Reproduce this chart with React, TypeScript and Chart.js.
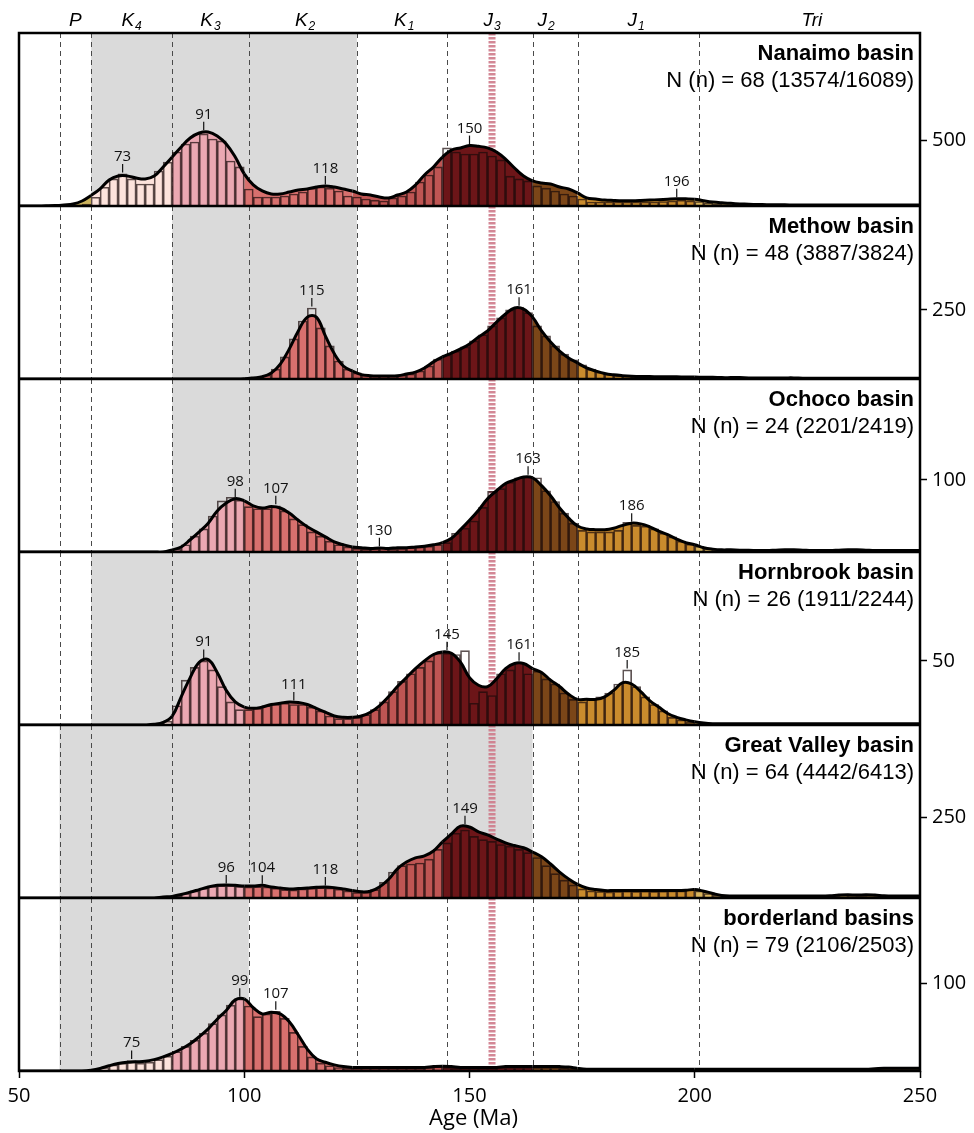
import React, { useEffect, useRef } from 'react';
import { Chart, registerables } from 'chart.js';

Chart.register(...registerables);

// ---------- data ----------
const X_MIN = 50;
const X_MAX = 250;
const BIN_WIDTH = 2;

const PANEL_NAMES = ['Nanaimo basin', 'Methow basin', 'Ochoco basin', 'Hornbrook basin', 'Great Valley basin', 'borderland basins'];
const PANEL_COUNTS = [
  'N (n) = 68 (13574/16089)',
  'N (n) = 48 (3887/3824)',
  'N (n) = 24 (2201/2419)',
  'N (n) = 26 (1911/2244)',
  'N (n) = 64 (4442/6413)',
  'N (n) = 79 (2106/2503)',
];
const Y_MAX = [1311, 626, 240, 135, 534, 197];
const Y_TICK = [500, 250, 100, 50, 250, 100];
const GRAY_RANGES = [[66, 125], [84, 125], [84, 125], [66, 125], [59, 164], [59, 101]];
const PEAKS = [
  [73, 91, 118, 150, 196],
  [115, 161],
  [98, 107, 130, 163, 186],
  [91, 111, 145, 161, 185],
  [96, 104, 118, 149, 200],
  [75, 99, 107],
];

const PERIOD_BOUNDS = [59, 66, 84, 101, 125, 145, 164, 174, 201];
const PERIOD_COLORS = ['#cbb35c', '#cbb35c', '#fde3dc', '#eba8b2', '#d8706e', '#bf5553', '#6c1518', '#7b4618', '#c98b2d', '#d9b55e'];
const PERIOD_NAMES = ['P', 'K', 'K', 'K', 'K', 'J', 'J', 'J', 'Tri'];
const PERIOD_SUBS = ['', '4', '3', '2', '1', '3', '2', '1', ''];
const PERIOD_LABEL_AGES = [62.5, 75, 92.5, 113.5, 135.5, 155, 167, 187, 226];
const RED_LINE_AGE = 155;

// KDE curves, sampled every 2 Ma from 50 to 250 Ma
const KDE_NANAIMO = [
  0, 0, 0, 1, 3, 8, 15, 38, 80, 130,
  197, 227, 228, 212, 205, 227, 296, 371, 447, 515,
  553, 561, 531, 470, 371, 243, 160, 114, 91, 91,
  106, 121, 129, 144, 152, 144, 129, 114, 91, 83,
  68, 61, 83, 106, 159, 235, 296, 371, 424, 440,
  458, 452, 440, 409, 356, 288, 227, 190, 174, 167,
  144, 129, 99, 61, 53, 45, 42, 40, 40, 42,
  45, 48, 52, 55, 54, 52, 40, 30, 24, 20,
  16, 13, 11, 10, 9, 9, 8, 8, 8, 8,
  8, 8, 8, 8, 8, 8, 8, 8, 8, 8,
  8,
];
const KDE_METHOW = [
  0, 0, 0, 0, 0, 0, 0, 0, 0, 0,
  0, 0, 0, 0, 0, 0, 0, 0, 0, 0,
  0, 0, 0, 0, 0, 1, 4, 8, 22, 54,
  109, 174, 224, 224, 156, 91, 47, 29, 16, 12,
  11, 11, 12, 18, 25, 40, 62, 80, 94, 109,
  127, 152, 174, 206, 235, 257, 253, 224, 174, 134,
  101, 76, 58, 40, 29, 20, 15, 12, 10, 9,
  9, 8, 8, 8, 7, 7, 6, 6, 5, 5,
  5, 4, 4, 4, 4, 4, 4, 3, 3, 3,
  3, 3, 3, 3, 3, 3, 3, 3, 3, 3,
  3,
];
const KDE_OCHOCO = [
  0, 0, 0, 0, 0, 0, 0, 0, 0, 0,
  0, 0, 0, 0, 0, 0, 0, 3, 7, 17,
  28, 40, 57, 68, 74, 71, 64, 61, 63, 61,
  54, 44, 35, 28, 21, 14, 10, 7, 6, 5,
  5.5, 5, 6, 6, 7, 8, 10, 13, 19, 31,
  44, 58, 74, 85, 95, 100, 104, 103, 92, 78,
  61, 47, 36, 32, 31, 31, 33, 37, 40, 39,
  35, 29, 24, 18, 13, 10, 6, 4, 3, 3,
  2.5, 2.5, 2, 2, 2.5, 3, 3, 2.5, 2, 2,
  2, 2.5, 3, 3, 2.5, 2, 2, 2, 2, 2,
  2,
];
const KDE_HORNBROOK = [
  0, 0, 0, 0, 0, 0, 0, 0, 0, 0,
  0, 0, 0, 0, 0, 0.5, 2, 7, 22, 37,
  49, 51, 41, 27, 18, 14, 13, 14, 16, 17,
  18, 17.5, 16, 13, 10, 7, 6, 6, 7, 10,
  15, 22, 30, 37, 44, 50, 55, 57, 56, 49,
  37, 31, 30, 36, 44, 48, 48, 44, 41, 35,
  30, 24, 20, 20, 20, 22, 27, 33, 32, 26,
  19, 14, 9, 6, 4, 2.5, 1.5, 1, 1, 1,
  1, 1, 1, 1, 1, 1, 1, 1, 1, 1,
  1, 1, 1, 1, 1, 1, 1, 1, 1, 1,
  1,
];
const KDE_GREAT_VALLEY = [
  0, 0, 0, 0, 0, 0, 0, 0, 0, 0,
  0, 0, 0, 0, 0, 0, 3, 5, 11, 18,
  26, 34, 39, 40, 39, 37, 37, 39, 34, 31,
  28, 29, 31, 33, 34, 32, 28, 23, 19, 21,
  34, 57, 90, 111, 124, 130, 145, 173, 198, 222,
  219, 204, 195, 182, 170, 162, 155, 142, 127, 105,
  80, 59, 42, 31, 26, 23, 23, 23, 23, 23,
  23, 23, 23, 23, 24, 26, 21, 14, 8, 6,
  6, 6, 6, 6, 6, 6, 6, 6, 6, 6,
  7, 9, 10, 9, 10, 9, 7, 6, 6, 6,
  6,
];
const KDE_BORDERLAND = [
  0, 0, 0, 0, 0, 0, 0, 0, 1, 3,
  6, 8.5, 10, 10.5, 11, 13, 16, 20, 25, 31,
  39, 48, 59, 69, 81, 82, 72, 65, 67, 65,
  56, 41, 25, 14, 10, 7, 5, 4, 4, 4,
  4, 4, 4, 4, 4, 4, 5, 5.5, 5, 4,
  4, 4, 4, 4, 5, 5, 5, 5, 5, 5,
  5, 4.5, 3, 2, 2, 2, 2, 2, 2, 2,
  2, 2, 2, 2, 2, 2, 2, 2, 2, 2,
  2, 2, 2, 2, 2, 2, 2, 2, 2, 2,
  2, 2, 2, 2, 2, 2.5, 3, 3, 3, 3,
  3,
];

// Histograms, 2 Ma bins from 50 to 250 Ma (bin centres 51 ... 249)
const HIST_NANAIMO = [
  0, 0, 0, 0, 2, 4, 8, 15, 66, 142,
  205, 243, 205, 167, 167, 265, 333, 409, 470, 485,
  546, 508, 493, 341, 296, 129, 68, 68, 68, 76,
  91, 106, 136, 144, 136, 114, 76, 68, 53, 45,
  38, 61, 76, 106, 182, 235, 296, 440, 409, 394,
  394, 409, 379, 349, 227, 205, 190, 152, 136, 114,
  91, 76, 53, 30, 30, 30, 30, 30, 30, 30,
  30, 34, 38, 45, 38, 34, 23, 15, 11, 8,
  6, 6, 5, 5, 5, 5, 5, 5, 5, 5,
  5, 5, 5, 5, 5, 5, 5, 5, 5, 5,
];
const HIST_METHOW = [
  0, 0, 0, 0, 0, 0, 0, 0, 0, 0,
  0, 0, 0, 0, 0, 0, 0, 0, 0, 0,
  0, 0, 0, 0, 0, 3, 7, 14, 36, 80,
  145, 210, 257, 185, 120, 65, 36, 22, 14, 11,
  11, 11, 14, 18, 29, 47, 72, 87, 101, 116,
  138, 160, 192, 221, 250, 260, 240, 192, 156, 120,
  90, 69, 51, 36, 25, 18, 14, 11, 9, 8,
  8, 8, 7, 7, 7, 6, 6, 5, 5, 5,
  4, 4, 4, 4, 4, 4, 3, 3, 3, 3,
  3, 3, 3, 3, 3, 3, 3, 3, 3, 3,
];
const HIST_OCHOCO = [
  0, 0, 0, 0, 0, 0, 0, 0, 0, 0,
  0, 0, 0, 0, 0, 0, 1, 4, 10, 22,
  32, 50, 71, 76, 72, 63, 60, 60, 64, 57,
  46, 38, 28, 22, 15, 10, 7, 5, 4, 5,
  6, 4, 5, 6, 7, 8, 10, 13, 26, 33,
  43, 62, 84, 88, 97, 103, 105, 103, 85, 70,
  54, 40, 30, 28, 28, 28, 30, 41, 37, 36,
  32, 26, 21, 15, 11, 8, 5, 3, 3, 3,
  2, 2, 2, 2, 3, 3, 3, 2, 2, 2,
  2, 2, 3, 3, 2, 2, 2, 2, 2, 2,
];
const HIST_HORNBROOK = [
  0, 0, 0, 0, 0, 0, 0, 0, 0, 0,
  0, 0, 0, 0, 0, 1, 3, 15, 35, 45,
  50, 43, 30, 18, 12, 12, 13, 15, 16, 17,
  16, 16, 14, 11, 7, 5, 5, 6, 8, 12,
  18, 26, 34, 40, 45, 50, 56, 56, 55, 58,
  17, 26, 23, 40, 43, 49, 40, 42, 36, 32,
  25, 20, 18, 20, 22, 25, 32, 43, 30, 22,
  16, 11, 6, 4, 2, 1, 1, 1, 1, 1,
  1, 1, 1, 1, 1, 1, 1, 1, 1, 1,
  1, 1, 1, 1, 1, 1, 1, 1, 1, 1,
];
const HIST_GREAT_VALLEY = [
  0, 0, 0, 0, 0, 0, 0, 0, 0, 0,
  0, 0, 0, 0, 0, 0, 3, 6, 14, 22,
  30, 36, 38, 39, 36, 34, 35, 34, 30, 26,
  25, 28, 30, 32, 31, 27, 22, 17, 18, 26,
  48, 80, 100, 105, 108, 120, 150, 170, 200, 210,
  190, 180, 175, 165, 160, 150, 140, 125, 100, 75,
  55, 40, 28, 22, 20, 19, 20, 21, 20, 21,
  20, 21, 22, 22, 26, 22, 14, 8, 5, 5,
  5, 5, 5, 5, 5, 5, 5, 5, 5, 5,
  7, 9, 8, 7, 8, 7, 5, 5, 5, 5,
];
const HIST_BORDERLAND = [
  0, 0, 0, 0, 0, 0, 0, 0, 2, 4,
  7, 9, 12, 9, 10, 13, 17, 22, 28, 35,
  43, 54, 64, 75, 82, 74, 62, 65, 68, 60,
  44, 28, 16, 9, 6, 4, 3, 3, 3, 3,
  3, 3, 3, 3, 3, 4, 5, 4, 3, 3,
  3, 3, 3, 4, 4, 4, 4, 4, 4, 4,
  3, 2, 1, 1, 1, 1, 1, 1, 1, 1,
  1, 1, 1, 1, 1, 1, 1, 1, 1, 1,
  1, 1, 1, 1, 1, 1, 1, 1, 1, 1,
  1, 1, 1, 1, 1, 2, 2, 2, 2, 2,
];

const KDES = [KDE_NANAIMO, KDE_METHOW, KDE_OCHOCO, KDE_HORNBROOK, KDE_GREAT_VALLEY, KDE_BORDERLAND];
const HISTS = [HIST_NANAIMO, HIST_METHOW, HIST_OCHOCO, HIST_HORNBROOK, HIST_GREAT_VALLEY, HIST_BORDERLAND];

// ---------- styling ----------
const FONT_NUM = "'Open Sans', 'DejaVu Sans', sans-serif";
const FONT_TXT = "'Liberation Sans', Arial, sans-serif";

const periodColor = (age: number) => {
  let k = 0;
  while (k < PERIOD_BOUNDS.length && age >= PERIOD_BOUNDS[k]) k++;
  return PERIOD_COLORS[k];
};

const panelPlugin = {
  id: 'panelDecor',
  beforeDraw(chart: any) {
    const { ctx } = chart;
    const xs = chart.scales.x;
    ctx.save();
    for (let i = 0; i < PANEL_NAMES.length; i++) {
      const ys = chart.scales['y' + i];
      const top = ys.top;
      const bottom = ys.bottom;
      const [g0, g1] = GRAY_RANGES[i];
      const gx0 = xs.getPixelForValue(g0);
      const gx1 = xs.getPixelForValue(g1);
      ctx.fillStyle = '#dadada';
      ctx.fillRect(gx0, top, gx1 - gx0, bottom - top);
      ctx.strokeStyle = '#4a4a4a';
      ctx.lineWidth = 1;
      ctx.setLineDash([5, 4]);
      for (const b of PERIOD_BOUNDS) {
        const px = Math.round(xs.getPixelForValue(b)) + 0.5;
        ctx.beginPath();
        ctx.moveTo(px, top);
        ctx.lineTo(px, bottom);
        ctx.stroke();
      }
      ctx.strokeStyle = 'rgba(206,122,138,0.9)';
      ctx.lineWidth = 7;
      ctx.setLineDash([2.5, 1.5]);
      const rx = xs.getPixelForValue(RED_LINE_AGE);
      ctx.beginPath();
      ctx.moveTo(rx, top);
      ctx.lineTo(rx, bottom);
      ctx.stroke();
    }
    ctx.restore();
  },
  afterDraw(chart: any) {
    const { ctx, chartArea } = chart;
    const xs = chart.scales.x;
    ctx.save();
    ctx.setLineDash([]);

    // peak labels
    ctx.fillStyle = '#111';
    ctx.strokeStyle = '#111';
    ctx.lineWidth = 1.2;
    ctx.font = `15px ${FONT_NUM}`;
    ctx.textAlign = 'center';
    ctx.textBaseline = 'alphabetic';
    for (let i = 0; i < PANEL_NAMES.length; i++) {
      const ys = chart.scales['y' + i];
      const line = chart.getDatasetMeta(2 * i).dataset;
      for (const age of PEAKS[i]) {
        const px = xs.getPixelForValue(age);
        let py = ys.getPixelForValue(0);
        const pt = line && line.interpolate ? line.interpolate({ x: px }, 'x') : null;
        if (pt) py = pt.y;
        const bin = Math.floor((age - X_MIN) / BIN_WIDTH);
        const hv = HISTS[i][bin];
        if (hv) py = Math.min(py, ys.getPixelForValue(hv));
        ctx.beginPath();
        ctx.moveTo(px, py - 1.5);
        ctx.lineTo(px, py - 10);
        ctx.stroke();
        ctx.fillText(String(age), px, py - 13);
      }
    }

    // panel frames
    ctx.strokeStyle = '#000';
    ctx.lineWidth = 2.5;
    ctx.strokeRect(chartArea.left, chartArea.top, chartArea.right - chartArea.left, chartArea.bottom - chartArea.top);
    for (let i = 0; i < PANEL_NAMES.length - 1; i++) {
      const ys = chart.scales['y' + i];
      ctx.beginPath();
      ctx.moveTo(chartArea.left, ys.bottom);
      ctx.lineTo(chartArea.right, ys.bottom);
      ctx.stroke();
    }

    // panel titles
    ctx.fillStyle = '#000';
    ctx.textAlign = 'right';
    ctx.textBaseline = 'middle';
    for (let i = 0; i < PANEL_NAMES.length; i++) {
      const ys = chart.scales['y' + i];
      ctx.font = `bold 22px ${FONT_TXT}`;
      ctx.fillText(PANEL_NAMES[i], chartArea.right - 6, ys.top + 21);
      ctx.font = `22px ${FONT_TXT}`;
      ctx.fillText(PANEL_COUNTS[i], chartArea.right - 6, ys.top + 48);
    }

    // period labels
    ctx.textAlign = 'left';
    for (let k = 0; k < PERIOD_NAMES.length; k++) {
      ctx.font = `italic 19px ${FONT_TXT}`;
      const w1 = ctx.measureText(PERIOD_NAMES[k]).width;
      ctx.font = `italic 12px ${FONT_TXT}`;
      const w2 = PERIOD_SUBS[k] ? ctx.measureText(PERIOD_SUBS[k]).width + 1 : 0;
      const cx = xs.getPixelForValue(PERIOD_LABEL_AGES[k]);
      const x0 = cx - (w1 + w2) / 2;
      ctx.font = `italic 19px ${FONT_TXT}`;
      ctx.fillText(PERIOD_NAMES[k], x0, 21);
      if (PERIOD_SUBS[k]) {
        ctx.font = `italic 12px ${FONT_TXT}`;
        ctx.fillText(PERIOD_SUBS[k], x0 + w1 + 1, 27);
      }
    }

    // axis title
    ctx.textAlign = 'center';
    ctx.font = `22px ${FONT_NUM}`;
    ctx.fillText('Age (Ma)', (chartArea.left + chartArea.right) / 2 + 4, 1119);
    ctx.restore();
  },
};

function buildConfig(): any {
  const datasets: any[] = [];
  const scales: any = {
    x: {
      type: 'linear',
      position: 'bottom',
      min: X_MIN,
      max: X_MAX,
      offset: false,
      ticks: { stepSize: 50, color: '#000', font: { family: FONT_NUM, size: 20 }, padding: 6, maxRotation: 0, autoSkip: false },
      grid: { display: true, drawOnChartArea: false, drawTicks: true, tickLength: 7, tickWidth: 1.5, tickColor: '#000', offset: false },
      border: { display: false },
      afterFit: (s: any) => { s.height = 62; },
    },
  };
  for (let i = 0; i < PANEL_NAMES.length; i++) {
    const yid = 'y' + i;
    datasets.push({
      type: 'line',
      label: PANEL_NAMES[i] + ' KDE',
      data: KDES[i].map((v, j) => ({ x: X_MIN + j * BIN_WIDTH, y: v })),
      xAxisID: 'x',
      yAxisID: yid,
      borderColor: '#000',
      borderWidth: 3,
      pointRadius: 0,
      tension: 0.4,
      fill: 'origin',
      backgroundColor: '#ccc',
      segment: {
        backgroundColor: (c: any) => periodColor((c.p0.parsed.x + c.p1.parsed.x) / 2),
      },
      order: 0,
    });
    datasets.push({
      type: 'bar',
      label: PANEL_NAMES[i] + ' histogram',
      data: HISTS[i].map((v, j) => ({ x: X_MIN + BIN_WIDTH / 2 + j * BIN_WIDTH, y: v > 0 ? v : null })),
      xAxisID: 'x',
      yAxisID: yid,
      backgroundColor: 'rgba(0,0,0,0)',
      borderColor: 'rgba(25,10,10,0.7)',
      borderWidth: 1,
      barPercentage: 1,
      categoryPercentage: 1,
      grouped: false,
      order: 1,
    });
    const tick = Y_TICK[i];
    scales[yid] = {
      type: 'linear',
      position: 'right',
      stack: 'panels',
      stackWeight: 1,
      offset: false,
      min: 0,
      max: Y_MAX[i],
      grid: { display: true, drawOnChartArea: false, drawTicks: true, tickLength: 7, tickWidth: 1.5, tickColor: '#000' },
      border: { display: false },
      ticks: { color: '#000', font: { family: FONT_NUM, size: 20 }, padding: 5 },
      afterBuildTicks: (s: any) => { s.ticks = [{ value: tick }]; },
      afterFit: (s: any) => { s.width = 54; },
    };
  }
  return {
    type: 'bar',
    data: { datasets },
    options: {
      responsive: false,
      maintainAspectRatio: false,
      animation: false,
      layout: { padding: { left: 19, top: 33, right: 0, bottom: 0 } },
      plugins: {
        legend: { display: false },
        tooltip: { enabled: false },
        filler: { drawTime: 'beforeDatasetsDraw' },
      },
      scales,
    },
    plugins: [panelPlugin],
  };
}

export default function App() {
  const ref = useRef<HTMLCanvasElement>(null);
  useEffect(() => {
    if (!ref.current) return;
    const chart = new Chart(ref.current, buildConfig());
    return () => chart.destroy();
  }, []);
  return (
    <div style={{ position: 'absolute', left: 0, top: 0, width: 974, height: 1133, background: '#fff' }}>
      <canvas ref={ref} width={974} height={1133} style={{ display: 'block' }} />
    </div>
  );
}
